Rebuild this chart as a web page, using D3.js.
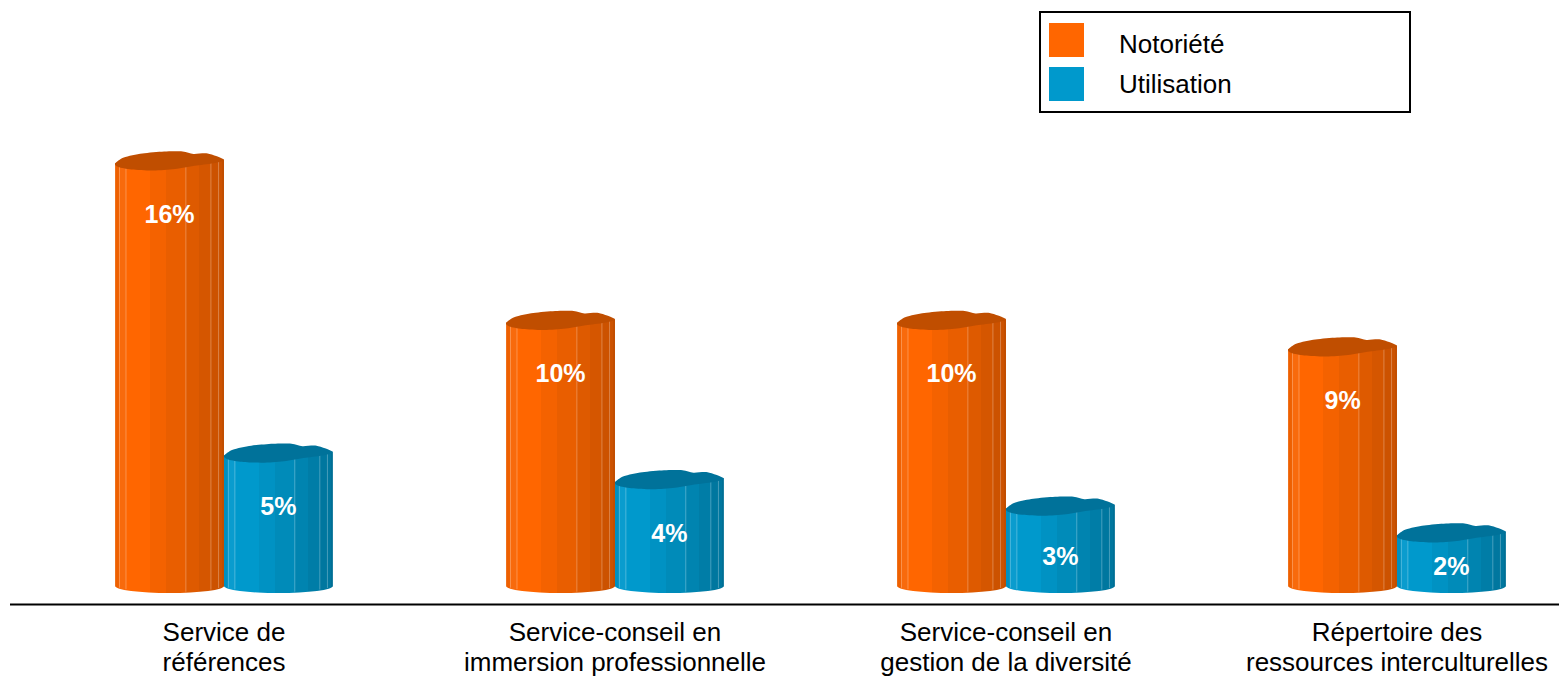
<!DOCTYPE html>
<html>
<head>
<meta charset="utf-8">
<script src="https://cdn.jsdelivr.net/npm/d3@7"></script>
<style>
  html, body { margin: 0; padding: 0; background: #ffffff; }
  svg { display: block; }
  text { font-family: "Liberation Sans", Arial, sans-serif; }
</style>
</head>
<body>
<svg id="chart" width="1559" height="676"></svg>
<script>
// Categories (each label split over two lines)
const categories = [
  "Service de références",
  "Service-conseil en immersion professionnelle",
  "Service-conseil en gestion de la diversité",
  "Répertoire des ressources interculturelles"
];
const categoryLines = [
  ["Service de", "références"],
  ["Service-conseil en", "immersion professionnelle"],
  ["Service-conseil en", "gestion de la diversité"],
  ["Répertoire des", "ressources interculturelles"]
];
const seriesNames = ["Notoriété", "Utilisation"];
const notoriete = [16, 10, 10, 9];
const utilisation = [5, 4, 3, 2];

const W = 1559, H = 676;
const svg = d3.select("#chart");

const baseY = 586;
const y = d3.scaleLinear().domain([0, 16]).range([baseY, 161]);
const x0 = d3.scaleBand().domain(categories)
  .range([28.5, 1592.5]).paddingInner(0.443).paddingOuter(0.2215);
const x1 = d3.scaleBand().domain(seriesNames).range([0, x0.bandwidth()]).padding(0);

// Series palettes: stripe bands across the cylinder (fraction from, fraction to, colour)
const palettes = {
  "Notoriété": {
    legend: "#FF6600",
    top: "#C04E00",
    bands: [
      [0.00, 0.04, "#EE6000"], [0.04, 0.10, "#F86A0C"], [0.10, 0.32, "#FF6600"],
      [0.32, 0.47, "#F46200"], [0.47, 0.65, "#E95E00"], [0.65, 0.77, "#DE5A00"],
      [0.77, 0.88, "#D55600"], [0.88, 0.98, "#CC5200"], [0.98, 1.00, "#C24E00"]
    ]
  },
  "Utilisation": {
    legend: "#0099CC",
    top: "#00729A",
    bands: [
      [0.00, 0.04, "#0090C0"], [0.04, 0.10, "#0A9CCE"], [0.10, 0.32, "#0099CC"],
      [0.32, 0.47, "#0092C3"], [0.47, 0.65, "#008BB9"], [0.65, 0.77, "#0084B0"],
      [0.77, 0.88, "#007DA7"], [0.88, 0.98, "#00779F"], [0.98, 1.00, "#006F95"]
    ]
  }
};
// thin light seams between stripes
const seams = [0.04, 0.10, 0.65, 0.88, 0.95];

const defs = svg.append("defs");
seriesNames.forEach((s, i) => {
  const g = defs.append("linearGradient").attr("id", "grad" + i)
    .attr("x1", 0).attr("x2", 1).attr("y1", 0).attr("y2", 0);
  palettes[s].bands.forEach(([a, b, c]) => {
    g.append("stop").attr("offset", a).attr("stop-color", c);
    g.append("stop").attr("offset", b).attr("stop-color", c);
  });
});

// Data rows
const rows = categories.map((c, i) => ({
  cat: c, lines: categoryLines[i],
  vals: [
    { s: seriesNames[0], v: notoriete[i], idx: 0 },
    { s: seriesNames[1], v: utilisation[i], idx: 1 }
  ]
}));

const ryTop = 10, ryBot = 7;
// irregular lid outline: (fraction of width, vertical offset in lid radii)
const lidPts = [
  [0.00, 0.25], [0.08, -0.35], [0.25, -0.75], [0.45, -0.95], [0.62, -0.95],
  [0.72, -0.70], [0.85, -0.75], [1.00, -0.15], [0.92, 0.20], [0.75, 0.45],
  [0.55, 0.80], [0.35, 0.95], [0.15, 0.85], [0.03, 0.60]
];
const lidLine = d3.line().curve(d3.curveCardinalClosed.tension(0.2));

const groups = svg.append("g").selectAll("g.cat").data(rows).join("g")
  .attr("class", "cat")
  .attr("transform", d => `translate(${x0(d.cat)},0)`);

const bars = groups.selectAll("g.bar").data(d => d.vals).join("g").attr("class", "bar");

bars.each(function(d) {
  const g = d3.select(this);
  const xl = x1(d.s), w = x1.bandwidth(), xr = xl + w;
  const top = y(d.v);
  // body with rounded bottom
  g.append("path")
    .attr("d", `M${xl},${top + 2} L${xl},${baseY} A${w / 2},${ryBot} 0 0 0 ${xr},${baseY} L${xr},${top - 1} Z`)
    .attr("fill", `url(#grad${d.idx})`);
  // light seams
  seams.forEach(f => {
    const sx = xl + f * w;
    g.append("line")
      .attr("x1", sx).attr("x2", sx)
      .attr("y1", top).attr("y2", baseY + ryBot * Math.sqrt(Math.max(0, 1 - Math.pow((f - 0.5) * 2, 2))) - 1)
      .attr("stroke", "#ffffff").attr("stroke-opacity", 0.28).attr("stroke-width", 1);
  });
  // lid
  g.append("path")
    .attr("d", lidLine(lidPts.map(([f, o]) => [xl + f * w, top + o * ryTop])))
    .attr("fill", palettes[d.s].top);
  // value label
  const ly = Math.min(top + 53, top + (baseY - top) * 0.62);
  g.append("text")
    .attr("x", xl + w / 2).attr("y", ly)
    .attr("text-anchor", "middle").attr("dominant-baseline", "central")
    .attr("fill", "#ffffff").attr("font-weight", "bold").attr("font-size", 25)
    .text(d.v + "%");
});

// baseline axis
svg.append("line")
  .attr("x1", 10).attr("x2", W).attr("y1", 604.5).attr("y2", 604.5)
  .attr("stroke", "#000").attr("stroke-width", 2);

// category labels
groups.append("text")
  .attr("x", x0.bandwidth() / 2).attr("y", 641)
  .attr("text-anchor", "middle").attr("font-size", 26).attr("fill", "#000")
  .selectAll("tspan").data(d => d.lines).join("tspan")
  .attr("x", x0.bandwidth() / 2)
  .attr("dy", (d, i) => i === 0 ? 0 : 29.5)
  .text(d => d);

// legend
const legend = svg.append("g");
legend.append("rect")
  .attr("x", 1040).attr("y", 12).attr("width", 370).attr("height", 100)
  .attr("fill", "#fff").attr("stroke", "#000").attr("stroke-width", 2);
seriesNames.forEach((s, i) => {
  legend.append("rect")
    .attr("x", 1049).attr("y", 23 + i * 44).attr("width", 35).attr("height", 34)
    .attr("fill", palettes[s].legend);
  legend.append("text")
    .attr("x", 1119).attr("y", 53 + i * 40)
    .attr("font-size", 26).attr("fill", "#000")
    .text(s);
});
</script>
</body>
</html>
